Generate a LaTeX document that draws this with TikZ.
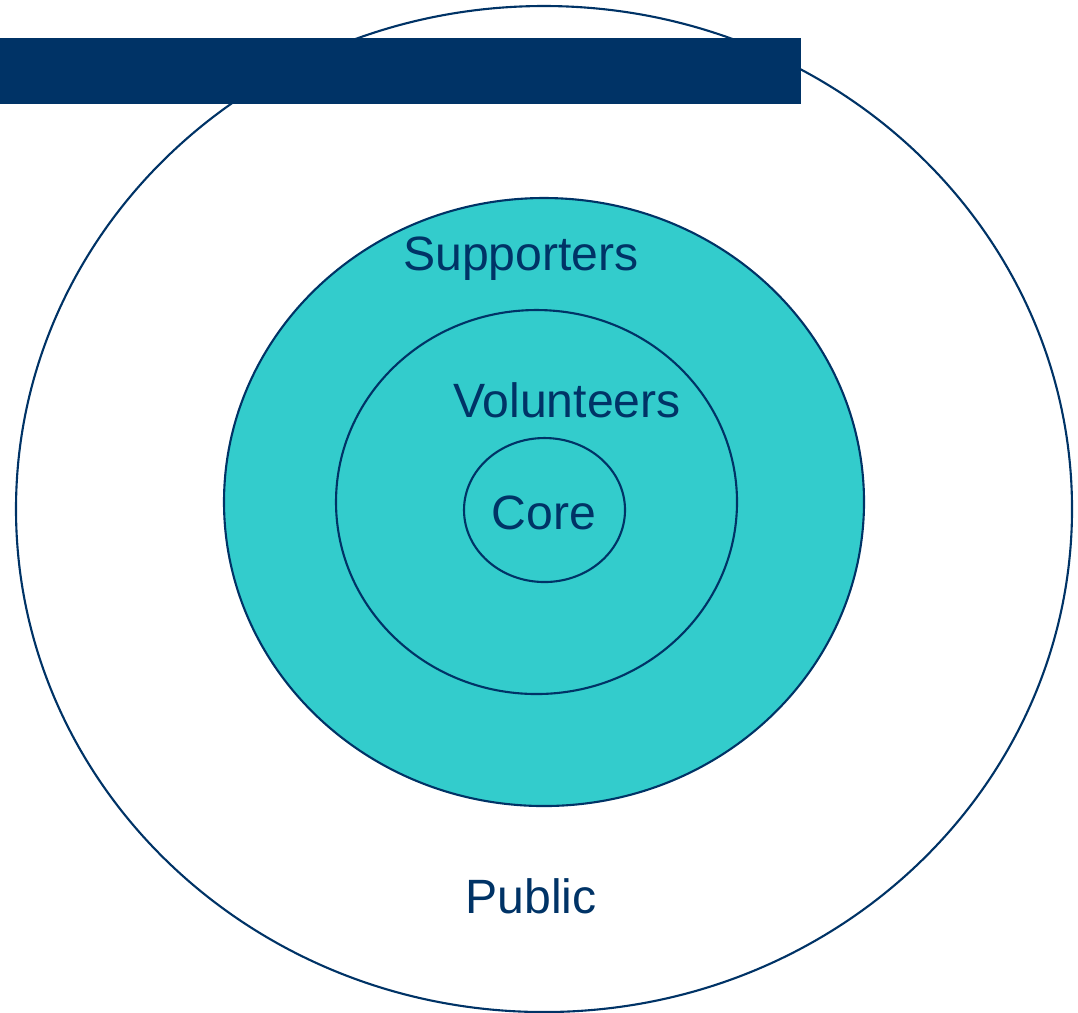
\documentclass[tikz,border=0pt]{standalone}
\usepackage{fontspec}
\setmainfont{Liberation Sans}
\usetikzlibrary{shapes.geometric, positioning}
\definecolor{navy}{RGB}{0,51,102}
\definecolor{teal}{RGB}{51,204,204}

\begin{document}
\begin{tikzpicture}[
            ring/.style = {ellipse, draw=navy, line width=0.6pt, inner sep=0pt},
            label/.style = {text=navy, font=\fontsize{13.7}{16}\selectfont, inner sep=0pt}
                                 ]
            \useasboundingbox (0,0) rectangle (10.78,-10.12);
            \begin{scope}
            \clip (0,0) rectangle (10.78,-10.12);
            \node[ring, minimum width=10.56cm, minimum height=10.06cm] (PUB) at (5.44,-5.09) {};
            \end{scope}
            % banner
            \fill[navy] (0,-0.38) rectangle (8.01,-1.04);
            %
            \node[ring, fill=teal, minimum width=6.40cm, minimum height=6.08cm] (SUP) at (5.44,-5.02) {};
            \node[ring, fill=teal, minimum width=4.01cm, minimum height=3.84cm] (VOL) at (5.365,-5.02) {};
            \node[ring, fill=teal, minimum width=1.61cm, minimum height=1.44cm] (CORE) at (5.445,-5.10) {};
            %
            \node[label] (SUPt)  at (5.21,-2.59) {Supporters};
            \node[label] (VOLt)  at (5.67,-4.00) {Volunteers};
            \node[label] (COREt) at (5.44,-5.13) {Core};
            \node[label] (PUBt)  at (5.31,-8.96) {Public};
\end{tikzpicture}
\end{document}
